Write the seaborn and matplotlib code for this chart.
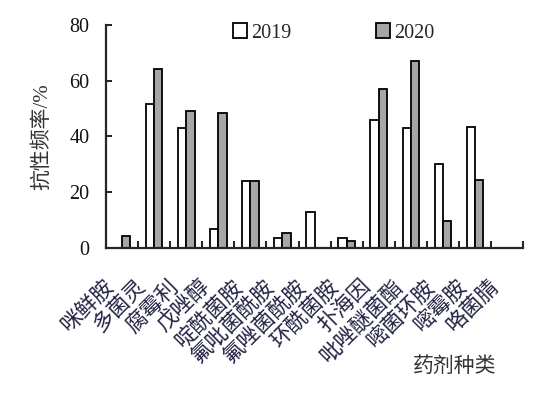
import numpy as np
import pandas as pd
import matplotlib.pyplot as plt
import matplotlib.transforms as mtransforms
import seaborn as sns

# data
drugs = ['咪鲜胺', '多菌灵', '腐霉利', '戊唑醇', '啶酰菌胺', '氟吡菌酰胺', '氟唑菌酰胺',
         '环酰菌胺', '扑海因', '吡唑醚菌酯', '嘧菌环胺', '嘧霉胺', '咯菌腈']
rate_2019 = [0, 51.7, 43.0, 6.8, 23.9, 3.6, 12.9, 3.6, 46.0, 43.0, 30.1, 43.4, 0]
rate_2020 = [4.3, 64.3, 49.0, 48.3, 23.9, 5.4, 0, 2.4, 57.0, 67.2, 9.8, 24.2, 0]
years = ['2019', '2020']
bar_colors = {'2019': 'white', '2020': '#a6a6a6'}
y_ticks = [0, 20, 40, 60, 80]

sns.set_style('ticks')
plt.rcParams['font.family'] = ['Liberation Serif', 'Noto Sans CJK SC']
plt.rcParams['font.size'] = 14

df = pd.DataFrame({
    'drug': drugs * 2,
    'rate': rate_2019 + rate_2020,
    'year': [years[0]] * len(drugs) + [years[1]] * len(drugs),
})

fig = plt.figure(figsize=(5.35, 3.96), dpi=100)
ax = fig.add_axes([0.198, 0.374, 0.78, 0.563])

sns.barplot(data=df, x='drug', y='rate', hue='year', palette=bar_colors,
            saturation=1, edgecolor='black', linewidth=1.3, width=0.52, gap=0,
            ax=ax)

ax.set_xlim(-0.5, len(drugs) - 0.5)
ax.set_ylim(0, 80)
ax.set_yticks(y_ticks)
ax.tick_params(axis='y', direction='in', length=4, width=1.3, pad=12,
               labelsize=14.5, colors='#111111')

# category labels at centres, tick marks at the boundaries
ax.set_xticks(range(len(drugs)))
ax.set_xticklabels(drugs, rotation=45, ha='right', va='center',
                   rotation_mode='anchor')
ax.set_xticks(np.arange(0.5, len(drugs), 1), minor=True)
ax.tick_params(axis='x', which='major', length=0, pad=25, labelsize=15.5,
               labelcolor='#222244')
ax.tick_params(axis='x', which='minor', direction='in', length=5, width=1.5)

# nudge the slanted labels left
shift = mtransforms.ScaledTranslation(-0.11, -0.01, fig.dpi_scale_trans)
for lab in ax.get_xticklabels():
    lab.set_transform(lab.get_transform() + shift)

sns.despine(ax=ax)
for s in ['left', 'bottom']:
    ax.spines[s].set_linewidth(1.6)

ax.set_ylabel('抗性频率/%', fontsize=15, labelpad=12, color='#333333')
ax.set_xlabel('药剂种类', fontsize=15, color='#333333')
ax.xaxis.set_label_coords(0.835, -0.49)

ax.legend(ncol=2, frameon=False, loc='center left', bbox_to_anchor=(0.305, 0.964),
          borderpad=0, borderaxespad=0, handlelength=0.7, handleheight=0.7,
          handletextpad=0.2, columnspacing=4.2, fontsize=14.5)

fig.savefig('out.png', dpi=100)
